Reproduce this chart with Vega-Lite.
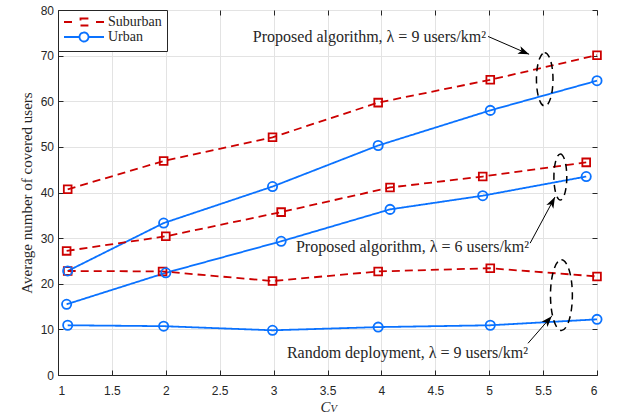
{
  "$schema": "https://vega.github.io/schema/vega-lite/v6.json",
  "autosize": "none",
  "width": 539,
  "height": 365,
  "padding": {"left": 58, "top": 10, "right": 26, "bottom": 40},
  "background": "white",
  "config": {
    "view": {"stroke": "#262626", "strokeWidth": 1},
    "axis": {
      "labelFont": "Liberation Sans", "labelFontSize": 12, "labelColor": "#262626",
      "domainColor": "#262626", "tickColor": "#262626", "gridColor": "#e3e3e3", "gridOpacity": 1,
      "titleColor": "#262626", "titleFontWeight": "normal"
    },
    "legend": {
      "orient": "top-left", "offset": 0, "padding": 5, "strokeColor": "#262626", "fillColor": "white",
      "labelFont": "Liberation Serif", "labelFontSize": 14, "labelColor": "#262626", "rowPadding": -6,
      "symbolSize": 144, "symbolStrokeWidth": 1.8, "cornerRadius": 0, "labelOffset": 31
    }
  },
  "resolve": {"axis": {"x": "independent", "y": "independent"}},
  "datasets": {
    "curves": [
      {"cv": 1.09, "users": 40.7, "area": "Suburban", "scheme": "Proposed, λ=9"},
      {"cv": 1.98, "users": 46.9, "area": "Suburban", "scheme": "Proposed, λ=9"},
      {"cv": 2.99, "users": 52.1, "area": "Suburban", "scheme": "Proposed, λ=9"},
      {"cv": 3.97, "users": 59.7, "area": "Suburban", "scheme": "Proposed, λ=9"},
      {"cv": 5.01, "users": 64.7, "area": "Suburban", "scheme": "Proposed, λ=9"},
      {"cv": 6.0, "users": 70.1, "area": "Suburban", "scheme": "Proposed, λ=9"},
      {"cv": 1.09, "users": 22.8, "area": "Urban", "scheme": "Proposed, λ=9"},
      {"cv": 1.98, "users": 33.3, "area": "Urban", "scheme": "Proposed, λ=9"},
      {"cv": 2.99, "users": 41.3, "area": "Urban", "scheme": "Proposed, λ=9"},
      {"cv": 3.97, "users": 50.3, "area": "Urban", "scheme": "Proposed, λ=9"},
      {"cv": 5.01, "users": 58.0, "area": "Urban", "scheme": "Proposed, λ=9"},
      {"cv": 6.0, "users": 64.5, "area": "Urban", "scheme": "Proposed, λ=9"},
      {"cv": 1.08, "users": 27.2, "area": "Suburban", "scheme": "Proposed, λ=6"},
      {"cv": 2.0, "users": 30.4, "area": "Suburban", "scheme": "Proposed, λ=6"},
      {"cv": 3.07, "users": 35.7, "area": "Suburban", "scheme": "Proposed, λ=6"},
      {"cv": 4.08, "users": 41.1, "area": "Suburban", "scheme": "Proposed, λ=6"},
      {"cv": 4.94, "users": 43.5, "area": "Suburban", "scheme": "Proposed, λ=6"},
      {"cv": 5.9, "users": 46.6, "area": "Suburban", "scheme": "Proposed, λ=6"},
      {"cv": 1.08, "users": 15.5, "area": "Urban", "scheme": "Proposed, λ=6"},
      {"cv": 2.0, "users": 22.4, "area": "Urban", "scheme": "Proposed, λ=6"},
      {"cv": 3.07, "users": 29.3, "area": "Urban", "scheme": "Proposed, λ=6"},
      {"cv": 4.08, "users": 36.3, "area": "Urban", "scheme": "Proposed, λ=6"},
      {"cv": 4.94, "users": 39.3, "area": "Urban", "scheme": "Proposed, λ=6"},
      {"cv": 5.9, "users": 43.5, "area": "Urban", "scheme": "Proposed, λ=6"},
      {"cv": 1.09, "users": 22.8, "area": "Suburban", "scheme": "Random, λ=9"},
      {"cv": 1.97, "users": 22.7, "area": "Suburban", "scheme": "Random, λ=9"},
      {"cv": 2.99, "users": 20.6, "area": "Suburban", "scheme": "Random, λ=9"},
      {"cv": 3.97, "users": 22.7, "area": "Suburban", "scheme": "Random, λ=9"},
      {"cv": 5.01, "users": 23.4, "area": "Suburban", "scheme": "Random, λ=9"},
      {"cv": 6.0, "users": 21.6, "area": "Suburban", "scheme": "Random, λ=9"},
      {"cv": 1.09, "users": 10.9, "area": "Urban", "scheme": "Random, λ=9"},
      {"cv": 1.98, "users": 10.7, "area": "Urban", "scheme": "Random, λ=9"},
      {"cv": 2.99, "users": 9.8, "area": "Urban", "scheme": "Random, λ=9"},
      {"cv": 3.97, "users": 10.5, "area": "Urban", "scheme": "Random, λ=9"},
      {"cv": 5.01, "users": 10.9, "area": "Urban", "scheme": "Random, λ=9"},
      {"cv": 6.0, "users": 12.2, "area": "Urban", "scheme": "Random, λ=9"}
    ],
    "notes": [
      {"x": 4.97, "y": 74.1, "label": "Proposed algorithm, λ = 9 users/km²"},
      {"x": 5.37, "y": 28.0, "label": "Proposed algorithm, λ = 6 users/km²"},
      {"x": 5.36, "y": 4.9, "label": "Random deployment, λ = 9 users/km²"}
    ],
    "arrows": [
      {"id": 1, "x0": 4.99, "y0": 74.2, "x1": 5.37, "y1": 70.3},
      {"id": 2, "x0": 5.38, "y0": 28.9, "x1": 5.61, "y1": 39.0},
      {"id": 3, "x0": 5.36, "y0": 6.95, "x1": 5.58, "y1": 12.9}
    ],
    "ellipses": [
      {"id": 1, "x": 5.515, "y": 64.8},
      {"id": 2, "x": 5.66, "y": 43.4},
      {"id": 3, "x": 5.67, "y": 17.5}
    ]
  },
  "data": {"name": "curves"},
  "encoding": {
    "x": {"field": "cv", "type": "quantitative", "scale": {"domain": [1, 6], "nice": false, "zero": false}, "axis": null},
    "y": {"field": "users", "type": "quantitative", "scale": {"domain": [0, 80], "nice": false, "zero": false}, "axis": null}
  },
  "layer": [
    {
      "mark": {"type": "line", "strokeWidth": 1.8, "clip": false},
      "encoding": {
        "x": {"field": "cv", "type": "quantitative", "scale": {"domain": [1, 6], "nice": false, "zero": false},
          "axis": {"orient": "bottom", "values": [1, 1.5, 2, 2.5, 3, 3.5, 4, 4.5, 5, 5.5, 6], "format": "~g", "tickSize": -5, "labelPadding": 15, "title": null, "grid": true}},
        "y": {"field": "users", "type": "quantitative", "scale": {"domain": [0, 80], "nice": false, "zero": false},
          "axis": {"orient": "left", "values": [0, 10, 20, 30, 40, 50, 60, 70, 80], "tickSize": -5, "labelPadding": 9.5, "grid": true,
            "title": "Average number of covered users", "titleFont": "Liberation Serif", "titleFontSize": 15, "titlePadding": 6}},
        "detail": {"field": "scheme"},
        "order": {"field": "cv", "type": "quantitative"},
        "color": {"field": "area", "type": "nominal", "scale": {"domain": ["Suburban", "Urban"], "range": ["#cc0000", "#0a72ff"]},
          "legend": {"title": null, "encode": {"symbols": {"update": {
            "shape": {"signal": "datum.value == 'Suburban' ? 'M-1,0H0.333M4.333,0H5.667M1.75,-0.583H2.917V0.583H1.75Z' : 'M-1,0H1.583M3.083,0H5.667M3.083,0A0.75,0.75 0 1,1 1.583,0A0.75,0.75 0 1,1 3.083,0Z'"},
            "fill": {"value": "transparent"},
            "strokeDash": {"value": [1, 0]},
            "strokeWidth": {"value": 1.8},
            "opacity": {"value": 1}
          }}}}},
        "strokeDash": {"field": "area", "type": "nominal", "scale": {"domain": ["Suburban", "Urban"], "range": [[8, 5], [1, 0]]}, "legend": null}
      }
    },
    {
      "transform": [{"filter": "datum.area == 'Suburban'"}],
      "mark": {"type": "point", "shape": "square", "filled": false, "size": 60, "strokeWidth": 1.8, "opacity": 1, "clip": false},
      "encoding": {"color": {"field": "area", "type": "nominal", "legend": null}}
    },
    {
      "transform": [{"filter": "datum.area == 'Urban'"}],
      "mark": {"type": "point", "shape": "circle", "filled": false, "size": 85, "strokeWidth": 1.8, "opacity": 1, "clip": false},
      "encoding": {"color": {"field": "area", "type": "nominal", "legend": null}}
    },
    {
      "mark": {"type": "rule", "opacity": 0},
      "encoding": {
        "x": {"field": "cv", "type": "quantitative", "scale": {"domain": [1, 6], "nice": false, "zero": false},
          "axis": {"orient": "top", "values": [1, 1.5, 2, 2.5, 3, 3.5, 4, 4.5, 5, 5.5, 6], "labels": false, "domain": false, "grid": false, "tickSize": -5, "title": null}},
        "y": {"field": "users", "type": "quantitative", "scale": {"domain": [0, 80], "nice": false, "zero": false},
          "axis": {"orient": "right", "values": [0, 10, 20, 30, 40, 50, 60, 70, 80], "labels": false, "domain": false, "grid": false, "tickSize": -5, "title": null}}
      }
    },
    {
      "data": {"name": "ellipses"},
      "transform": [{"filter": "datum.id == 1"}],
      "mark": {"type": "point", "shape": "M0,-1A0.31,1 0 1,1 0,1A0.31,1 0 1,1 0,-1Z", "size": 2852, "filled": false, "stroke": "black", "strokeWidth": 1.5, "strokeDash": [7, 5], "opacity": 1, "clip": false},
      "encoding": {"x": {"field": "x", "type": "quantitative"}, "y": {"field": "y", "type": "quantitative"}}
    },
    {
      "data": {"name": "ellipses"},
      "transform": [{"filter": "datum.id == 2"}],
      "mark": {"type": "point", "shape": "M0,-1A0.28,1 0 1,1 0,1A0.28,1 0 1,1 0,-1Z", "size": 2116, "filled": false, "stroke": "black", "strokeWidth": 1.5, "strokeDash": [7, 5], "opacity": 1, "clip": false},
      "encoding": {"x": {"field": "x", "type": "quantitative"}, "y": {"field": "y", "type": "quantitative"}}
    },
    {
      "data": {"name": "ellipses"},
      "transform": [{"filter": "datum.id == 3"}],
      "mark": {"type": "point", "shape": "M0,-1A0.31,1 0 1,1 0,1A0.31,1 0 1,1 0,-1Z", "size": 4984, "filled": false, "stroke": "black", "strokeWidth": 1.5, "strokeDash": [7, 5], "opacity": 1, "clip": false},
      "encoding": {"x": {"field": "x", "type": "quantitative"}, "y": {"field": "y", "type": "quantitative"}}
    },
    {
      "data": {"name": "arrows"},
      "mark": {"type": "rule", "color": "black", "strokeWidth": 1},
      "encoding": {
        "x": {"field": "x0", "type": "quantitative"}, "y": {"field": "y0", "type": "quantitative"},
        "x2": {"field": "x1"}, "y2": {"field": "y1"}
      }
    },
    {
      "data": {"name": "arrows"},
      "transform": [{"filter": "datum.id == 1"}],
      "mark": {"type": "point", "shape": "M0,0L-1,-0.36L-0.75,0L-1,0.36Z", "size": 484, "filled": true, "color": "black", "opacity": 1, "angle": 22.6},
      "encoding": {"x": {"field": "x1", "type": "quantitative"}, "y": {"field": "y1", "type": "quantitative"}}
    },
    {
      "data": {"name": "arrows"},
      "transform": [{"filter": "datum.id == 2"}],
      "mark": {"type": "point", "shape": "M0,0L-1,-0.36L-0.75,0L-1,0.36Z", "size": 484, "filled": true, "color": "black", "opacity": 1, "angle": 297.6},
      "encoding": {"x": {"field": "x1", "type": "quantitative"}, "y": {"field": "y1", "type": "quantitative"}}
    },
    {
      "data": {"name": "arrows"},
      "transform": [{"filter": "datum.id == 3"}],
      "mark": {"type": "point", "shape": "M0,0L-1,-0.36L-0.75,0L-1,0.36Z", "size": 484, "filled": true, "color": "black", "opacity": 1, "angle": 311},
      "encoding": {"x": {"field": "x1", "type": "quantitative"}, "y": {"field": "y1", "type": "quantitative"}}
    },
    {
      "data": {"name": "notes"},
      "mark": {"type": "text", "align": "right", "baseline": "middle", "font": "Liberation Serif", "fontSize": 16, "color": "#262626"},
      "encoding": {"x": {"field": "x", "type": "quantitative"}, "y": {"field": "y", "type": "quantitative"}, "text": {"field": "label"}}
    },
    {
      "data": {"values": [{"x": 3.5, "y": -7.0, "label": "C"}]},
      "mark": {"type": "text", "align": "right", "baseline": "middle", "font": "Liberation Serif", "fontStyle": "italic", "fontSize": 15, "color": "#262626", "dx": 3},
      "encoding": {"x": {"field": "x", "type": "quantitative"}, "y": {"field": "y", "type": "quantitative"}, "text": {"field": "label"}}
    },
    {
      "data": {"values": [{"x": 3.5, "y": -7.0, "label": "V"}]},
      "mark": {"type": "text", "align": "left", "baseline": "middle", "font": "Liberation Serif", "fontStyle": "italic", "fontSize": 10.5, "color": "#262626", "dx": 3, "dy": 2},
      "encoding": {"x": {"field": "x", "type": "quantitative"}, "y": {"field": "y", "type": "quantitative"}, "text": {"field": "label"}}
    }
  ]
}
